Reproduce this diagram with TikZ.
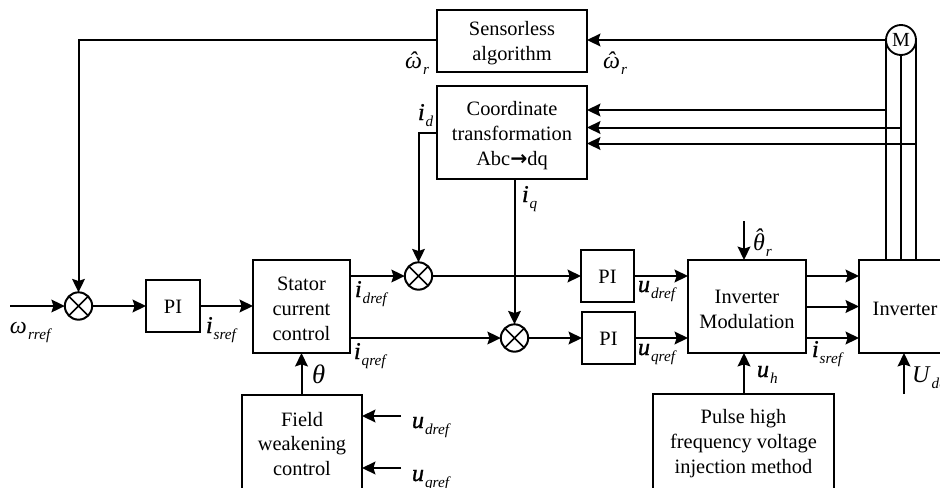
\documentclass[tikz,border=0pt]{standalone}
\usepackage{fontspec}
\setmainfont{Liberation Serif}
\newfontfamily\arrowfont{DejaVu Sans}
\newfontfamily\heavyit[FakeBold=1.2]{Liberation Serif Italic}
\usetikzlibrary{arrows.meta}
\newcommand{\subtxt}[1]{\hspace{.8pt}\raisebox{-4.8pt}{\fontsize{11.4pt}{12pt}\selectfont\textit{#1}}}
% bold-looking symbol with subscript
\newcommand{\symlab}[2]{{\fontsize{18pt}{18pt}\selectfont\heavyit #1\normalfont\subtxt{#2}}}
% plain italic symbol with subscript
\newcommand{\plainlab}[2]{{\fontsize{18pt}{18pt}\selectfont\textit{#1}\subtxt{#2}}}
% symbol with a hat raised by #3
\newcommand{\hatlab}[3]{{\fontsize{18pt}{18pt}\selectfont\ooalign{\textit{#1}\cr\hidewidth\raisebox{#3}{\textit{ˆ}}\hidewidth\cr}\subtxt{#2}}}
% tall first line: moves a block's text down a little
\newcommand{\nudgetxt}[1]{\rule{0pt}{#1}}
\tikzset{
  x=0.75pt,y=-0.75pt,
  thin wire/.style={line width=1.4pt},
  flow/.style={line width=1.5pt,-{Stealth[length=10pt,width=9.5pt,inset=1.5pt]}},
  block/.style={draw,line width=1.5pt,outer sep=0pt,inner sep=0pt,align=center,
    font=\fontsize{15.3pt}{18.6pt}\selectfont},
  sumj/.style={draw,circle,line width=1.5pt,minimum size=20.5pt,inner sep=0pt,outer sep=0pt,
    path picture={\draw[line width=1.3pt]
      (path picture bounding box.north west)--(path picture bounding box.south east)
      (path picture bounding box.north east)--(path picture bounding box.south west);}},
  motor/.style={draw,circle,line width=1.4pt,minimum size=22.5pt,inner sep=0pt,outer sep=0pt,
    font=\fontsize{15pt}{15pt}\selectfont},
  lab/.style={anchor=base west,inner sep=0pt,outer sep=0pt},
}
\begin{document}
\begin{tikzpicture}
\useasboundingbox (0,0) rectangle (940,487);
\clip (0,0) rectangle (940,487);
% blocks
\node[block,minimum width=112.5pt,minimum height=46.5pt] (sens) at (512,41) {\nudgetxt{14.2pt}Sensorless\\algorithm};
\node[block,minimum width=112.5pt,minimum height=69.75pt] (coord) at (512,132.5) {\nudgetxt{14.9pt}Coordinate\\transformation\\Abc{\arrowfont\bfseries →}dq};
\node[block,minimum width=72.75pt,minimum height=69.75pt] (stator) at (301.5,306.5) {\nudgetxt{13.4pt}Stator\\current\\control};
\node[block,minimum width=40.5pt,minimum height=39pt] (pia) at (173,306) {\nudgetxt{11.5pt}PI};
\node[block,minimum width=39.75pt,minimum height=39pt] (pib) at (607.5,276) {\nudgetxt{11.5pt}PI};
\node[block,minimum width=39.75pt,minimum height=39pt] (pic) at (608.5,338) {\nudgetxt{11.5pt}PI};
\node[block,minimum width=88.5pt,minimum height=69.75pt] (mod) at (747,306.5) {\nudgetxt{14.2pt}Inverter\\Modulation};
\node[block,minimum width=69pt,minimum height=69.75pt] (inv) at (905,306.5) {\nudgetxt{13pt}Inverter};
\node[block,minimum width=135.75pt,minimum height=72pt] (pulse) at (743.5,442) {\nudgetxt{12.7pt}Pulse high\\frequency voltage\\injection method};
\node[block,minimum width=90pt,minimum height=73.5pt] (field) at (302,444) {Field\\weakening\\control};
% summing junctions and motor
\node[sumj] (sa) at (78.5,306) {};
\node[sumj] (sb) at (418.5,276) {};
\node[sumj] (sc) at (514.5,338) {};
\node[motor] (m) at (901,40) {M};
% free ends
\coordinate (inw) at (10,306);
\coordinate (thr) at (744,221);
\coordinate (udc) at (904,394);
\coordinate (fa) at (401,416);
\coordinate (fb) at (401,468);
\coordinate (pa) at (m.west |- 0,110);
\coordinate (pb) at (m.south |- 0,127.5);
\coordinate (pc) at (m.east |- 0,143.5);
\coordinate (idk) at (418.5,133);
% main path
\draw[flow] (inw) -- (sa);
\draw[flow] (sa) -- (pia);
\draw[flow] (pia) -- (stator.west |- pia);
\draw[flow] (stator.east |- sb) -- (sb);
\draw[flow] (stator.east |- sc) -- (sc);
\draw[flow] (sb) -- (pib);
\draw[flow] (sc) -- (pic);
\draw[flow] (pib) -- (mod.west |- pib);
\draw[flow] (pic) -- (mod.west |- pic);
\draw[flow] (mod.east |- sb) -- (inv.west |- sb);
\draw[flow] (mod.east) -- (inv.west |- mod.east);
\draw[flow] (mod.east |- sc) -- (inv.west |- sc);
% feedback
\draw[flow] (m.west) -- (sens.east |- m.west);
\draw[flow] (sens.west |- m.west) -| (sa);
\draw[flow] (coord.west |- idk) -| (sb);
\draw[flow] (coord.south -| sc) -- (sc);
\draw[thin wire] (m.west) -- (m.west |- inv.north);
\draw[thin wire] (m.south) -- (m.south |- inv.north);
\draw[thin wire] (m.east) -- (m.east |- inv.north);
\draw[flow] (pa) -- (coord.east |- pa);
\draw[flow] (pb) -- (coord.east |- pb);
\draw[flow] (pc) -- (coord.east |- pc);
% side inputs
\draw[flow] (thr) -- (thr |- mod.north);
\draw[flow] (thr |- pulse.north) -- (thr |- mod.south);
\draw[flow] (udc) -- (udc |- inv.south);
\draw[flow] (stator.south |- field.north) -- (stator.south);
\draw[flow] (fa) -- (field.east |- fa);
\draw[flow] (fb) -- (field.east |- fb);
% labels
\node[lab] (l1) at (10,333) {\plainlab{ω}{rref}};
\node[lab] (l2) at (206,333) {\symlab{i}{sref}};
\node[lab] (l3) at (355,297) {\symlab{i}{dref}};
\node[lab] (l4) at (354,359) {\symlab{i}{qref}};
\node[lab] (l5) at (312,383) {\fontsize{20pt}{20pt}\selectfont\textit{θ}};
\node[lab] (l6) at (412,428) {\symlab{u}{dref}};
\node[lab] (l7) at (412,481) {\symlab{u}{qref}};
\node[lab] (l8) at (638,292) {\symlab{u}{dref}};
\node[lab] (l9) at (638,355) {\symlab{u}{qref}};
\node[lab] (l10) at (812,357) {\symlab{i}{sref}};
\node[lab] (l11) at (757,377) {\symlab{u}{h}};
\node[lab] (l12) at (912,382) {\plainlab{U}{dc}};
\node[lab] (l13) at (753,250) {\hatlab{θ}{r}{3.5pt}};
\node[lab] (l14) at (405,68) {\hatlab{ω}{r}{0pt}};
\node[lab] (l15) at (603,68) {\hatlab{ω}{r}{0pt}};
\node[lab] (l16) at (418,120) {\symlab{i}{d}};
\node[lab] (l17) at (522,202) {\symlab{i}{q}};
\end{tikzpicture}
\end{document}
